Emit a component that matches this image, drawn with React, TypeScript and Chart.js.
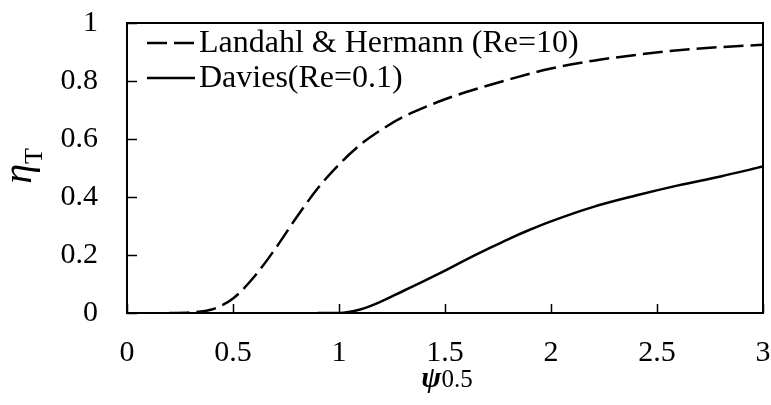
import React, { useEffect, useRef } from 'react';
import { Chart, registerables } from 'chart.js';

Chart.register(...registerables);

// ---- data ----
const landahlX = [0.2, 0.3, 0.4, 0.5, 0.6, 0.7, 0.8, 0.9, 1.0, 1.1, 1.2, 1.3, 1.4, 1.5, 1.6, 1.8, 2.0, 2.2, 2.4, 2.6, 2.8, 3.0];
const landahlY = [0, 0.002, 0.012, 0.05, 0.125, 0.222, 0.33, 0.43, 0.512, 0.58, 0.632, 0.675, 0.708, 0.737, 0.762, 0.805, 0.843, 0.87, 0.89, 0.906, 0.917, 0.925];

const daviesX = [0.9, 1.0, 1.1, 1.2, 1.3, 1.4, 1.5, 1.6, 1.7, 1.8, 1.9, 2.0, 2.2, 2.4, 2.6, 2.8, 3.0];
const daviesY = [0, 0, 0.012, 0.04, 0.075, 0.11, 0.146, 0.184, 0.22, 0.255, 0.287, 0.316, 0.366, 0.405, 0.44, 0.471, 0.505];

const seriesLabels = ['Landahl & Hermann (Re=10)', 'Davies(Re=0.1)'];

const xTickValues = [0, 0.5, 1, 1.5, 2, 2.5, 3];
const xTickLabels = ['0', '0.5', '1', '1.5', '2', '2.5', '3'];
const yTickValues = [0, 0.2, 0.4, 0.6, 0.8, 1];
const yTickLabels = ['0', '0.2', '0.4', '0.6', '0.8', '1'];

const SERIF = "'Liberation Serif', 'Times New Roman', serif";
const DASH = [20, 7];

const decor = {
  id: 'decor',
  afterDatasetsDraw(chart: any) {
    const { ctx, chartArea: a, scales } = chart;
    ctx.save();
    ctx.strokeStyle = '#000';
    ctx.fillStyle = '#000';
    // inward tick marks
    ctx.lineWidth = 1.5;
    scales.y.ticks.forEach((t: any) => {
      const py = Math.round(scales.y.getPixelForValue(t.value)) + 0.5;
      ctx.beginPath(); ctx.moveTo(a.left, py); ctx.lineTo(a.left + 10, py); ctx.stroke();
    });
    scales.x.ticks.forEach((t: any) => {
      const px = Math.round(scales.x.getPixelForValue(t.value)) + 0.5;
      ctx.beginPath(); ctx.moveTo(px, a.bottom); ctx.lineTo(px, a.bottom - 9); ctx.stroke();
    });
    // frame
    ctx.lineWidth = 2;
    ctx.strokeRect(a.left, a.top, a.right - a.left, a.bottom - a.top);

    // legend
    const ds = chart.data.datasets;
    ds.forEach((d: any, i: number) => {
      const cy = a.top + 20 + i * 35;
      const x0 = a.left + 20;
      ctx.save();
      ctx.lineWidth = 2.5;
      ctx.setLineDash(d.borderDash || []);
      ctx.beginPath(); ctx.moveTo(x0, cy); ctx.lineTo(x0 + 48, cy); ctx.stroke();
      ctx.restore();
      ctx.font = `32px ${SERIF}`;
      ctx.textAlign = 'left';
      ctx.textBaseline = 'middle';
      ctx.fillText(d.label, x0 + 52, cy + 1);
    });

    // x title: ψ0.5
    const cx = (a.left + a.right) / 2 + 2;
    const by = 387;
    ctx.textBaseline = 'alphabetic';
    ctx.font = `italic bold 30px ${SERIF}`;
    const w1 = ctx.measureText('ψ').width;
    ctx.font = `25px ${SERIF}`;
    const w2 = ctx.measureText('0.5').width;
    const sx = cx - (w1 + w2) / 2;
    ctx.font = `italic bold 30px ${SERIF}`;
    ctx.textAlign = 'left';
    ctx.fillText('ψ', sx, by);
    ctx.font = `25px ${SERIF}`;
    ctx.fillText('0.5', sx + w1, by);

    // y title: η_T rotated
    ctx.save();
    ctx.translate(31, (a.top + a.bottom) / 2 - 2);
    ctx.rotate(-Math.PI / 2);
    ctx.font = `italic 40px ${SERIF}`;
    const e1 = ctx.measureText('η').width;
    ctx.font = `26px ${SERIF}`;
    const e2 = ctx.measureText('T').width;
    const s0 = -(e1 + e2) / 2;
    ctx.font = `italic 40px ${SERIF}`;
    ctx.fillText('η', s0, 0);
    ctx.font = `26px ${SERIF}`;
    ctx.fillText('T', s0 + e1, 11);
    ctx.restore();

    ctx.restore();
  },
};

export default function App() {
  const ref = useRef<HTMLCanvasElement>(null);
  useEffect(() => {
    document.body.style.margin = '0';
    const toPts = (xs: number[], ys: number[]) => xs.map((x, i) => ({ x, y: ys[i] }));
    const chart = new Chart(ref.current!, {
      type: 'line',
      data: {
        datasets: [
          {
            label: seriesLabels[0],
            data: toPts(landahlX, landahlY),
            borderColor: '#000',
            borderWidth: 2.5,
            borderDash: DASH,
            pointRadius: 0,
            cubicInterpolationMode: 'monotone',
            fill: false,
          },
          {
            label: seriesLabels[1],
            data: toPts(daviesX, daviesY),
            borderColor: '#000',
            borderWidth: 2.5,
            pointRadius: 0,
            cubicInterpolationMode: 'monotone',
            fill: false,
          },
        ],
      },
      options: {
        animation: false,
        responsive: false,
        devicePixelRatio: 1,
        layout: { padding: { top: 23, right: 8, left: 0, bottom: 0 } },
        plugins: { legend: { display: false }, tooltip: { enabled: false } },
        scales: {
          x: {
            type: 'linear',
            min: xTickValues[0],
            max: xTickValues[xTickValues.length - 1],
            afterBuildTicks: (s: any) => { s.ticks = xTickValues.map((v) => ({ value: v })); },
            ticks: {
              color: '#000',
              font: { family: SERIF, size: 30 },
              padding: 22,
              maxRotation: 0,
              autoSkip: false,
              callback: (_v: any, i: number) => xTickLabels[i],
            },
            grid: { display: false, drawTicks: false },
            border: { display: false },
            afterFit: (s: any) => { s.height = 92; s.paddingLeft = 0; s.paddingRight = 0; },
          },
          y: {
            type: 'linear',
            min: yTickValues[0],
            max: yTickValues[yTickValues.length - 1],
            afterBuildTicks: (s: any) => { s.ticks = yTickValues.map((v) => ({ value: v })); },
            ticks: {
              color: '#000',
              font: { family: SERIF, size: 30 },
              padding: 29,
              callback: (_v: any, i: number) => yTickLabels[i],
            },
            grid: { display: false, drawTicks: false },
            border: { display: false },
            afterFit: (s: any) => { s.width = 127; s.paddingTop = 0; s.paddingBottom = 0; },
          },
        },
      },
      plugins: [decor],
    } as any);
    return () => chart.destroy();
  }, []);
  return (
    <div style={{ width: 771, height: 405 }}>
      <canvas ref={ref} width={771} height={405} />
    </div>
  );
}
